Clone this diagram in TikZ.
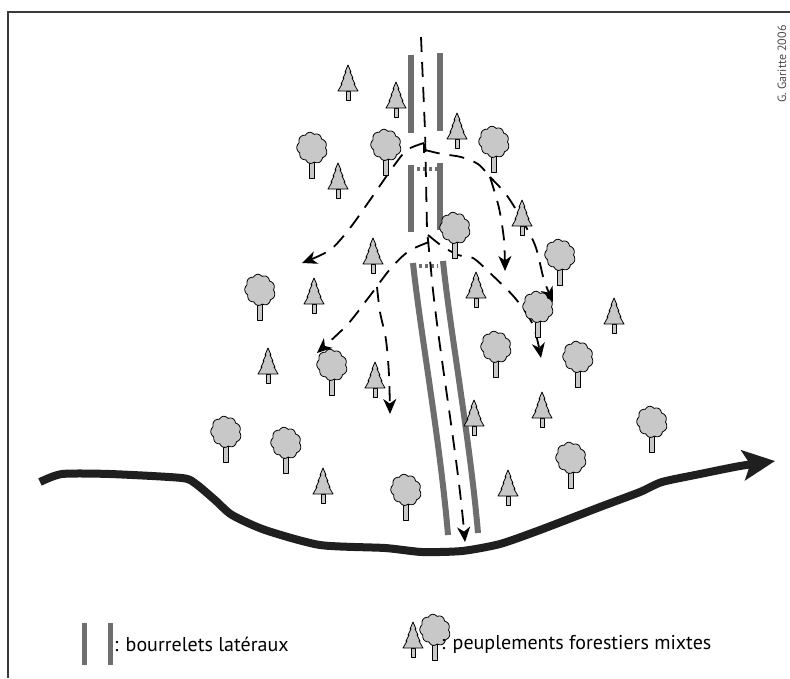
\documentclass[tikz,border=0pt]{standalone}
\usepackage{fontspec}
\setmainfont{PT Sans}
\usetikzlibrary{arrows.meta}

\definecolor{leveegray}{HTML}{6E6E6E}
\definecolor{leafgray}{HTML}{C8C8C8}
\definecolor{framegray}{HTML}{3A3A3A}

\tikzset{
  levee/.style={leveegray, line width=6pt},
  leveetop/.style={leveegray, line width=4pt, dash pattern=on 3pt off 3pt},
  flowplain/.style={black, line width=1.8pt, dash pattern=on 15pt off 10pt},
  flow/.style={flowplain, -{Stealth[length=15pt,width=13pt,inset=4.5pt]}},
  river/.style={black!88, line width=8pt, line join=round,
    -{Stealth[length=32pt,width=30pt,inset=7pt]}},
  treefill/.style={fill=leafgray, draw=black, line width=0.8pt, line join=round},
  sapin/.pic={
    \path[treefill] (-2,-9) rectangle (2,0);
    \path[treefill] (0,-35) -- (3,-28) -- (2,-28) -- (5,-22) -- (4,-22)
      -- (7,-16) -- (6,-16) -- (10,-9) -- (-10,-9) -- (-6,-16) -- (-7,-16)
      -- (-4,-22) -- (-5,-22) -- (-2,-28) -- (-3,-28) -- cycle;
  },
  feuillu/.pic={
    \path[treefill] (-2.2,-18) rectangle (2.2,0);
    \path[treefill] plot[variable=\t, domain=0:356, samples=90]
      ({(13+1.7*abs(sin(4.5*\t))+0.8*sin(2*\t+40))*cos(\t)},
       {-30+(14.5+1.7*abs(sin(4.5*\t))+0.8*sin(2*\t+40))*sin(\t)}) -- cycle;
  }
}

\begin{document}
\begin{tikzpicture}[x=1pt,y=-1pt]
\useasboundingbox (0,0) rectangle (790,678);

% frame (top and left edges)
\draw[framegray, line width=1.5pt] (8,678) -- (8,12) -- (790,12);

% credit line
\node[rotate=90, text=black!70, font=\fontsize{12}{14}\selectfont, inner sep=0pt]
  (credit) at (782,64) {G. Garitte 2006};

% river
\draw[river] plot[smooth, tension=0.4] coordinates {
  (40,482) (62,474) (110,474) (182,478) (196,484) (215,500) (232,515)
  (265,530) (320,545) (385,548) (422,552) (462,551) (500,544) (540,530)
  (600,507) (640,492) (662,482) (700,474) (740,466) (775,461)};

% channel levees: upper segment
\draw[levee] (411,55) -- (411,133);
\draw[levee] (440,53) -- (440,131);
% middle segment
\draw[leveetop] (417,169) -- (437,169);
\draw[levee] (411,165) -- (411,232);
\draw[levee] (440,163) -- (440,230);
% lower segment
\draw[leveetop] (419,266) -- (438,266);
\draw[levee] (413,263) .. controls (420,330) and (440,440) .. (448,535);
\draw[levee] (443,261) .. controls (450,330) and (470,440) .. (478,533);

% axial flow
\draw[flow] (421,37) -- (425,130) -- (427,230) -- (431,270)
  .. controls (437,340) and (457,450) .. (465,542);

% overflow at the first breach
\draw[flow] plot[smooth] coordinates {
  (424,143) (407,150) (393,167) (370,200) (350,228) (330,250) (302,263)};
\draw[flowplain] (424,144) -- (424,153);
\draw[flowplain] plot[smooth] coordinates {(425,150) (442,154) (461,157) (478,164) (490,177)};
\draw[flow] plot[smooth] coordinates {(490,177) (499,208) (504,240) (505,271)};
\draw[flow] plot[smooth] coordinates {(490,177) (505,193) (518,213) (535,245) (544,280) (553,302)};

% overflow at the second breach
\draw[flow] plot[smooth] coordinates {
  (429,242) (409,251) (391,268) (369,297) (347,325) (317,353)};
\draw[flow] plot[smooth] coordinates {(377,287) (380,312) (386,340) (389,375) (390,414)};
\draw[flow] plot[smooth] coordinates {
  (428,235) (442,246) (458,255) (473,258) (490,273) (515,298) (533,325) (541,358)};

% conifers
\foreach \px/\py in {348/100, 396/117, 457/148, 338/198, 373/273, 314/313,
  476/307, 522/235, 614/333, 268/383, 375/397, 474/435, 542/427, 323/503, 508/505}
  \pic at (\px,\py) {sapin};

% broadleaf trees
\foreach \px/\py in {312/178, 386/175, 494/172, 455/258, 560/285, 260/320,
  538/337, 496/377, 578/387, 332/395, 226/462, 286/473, 406/520, 571/488, 652/452}
  \pic at (\px,\py) {feuillu};

% legend
\draw[levee, line width=5pt] (84,623) -- (84,665);
\draw[levee, line width=5pt] (110,623) -- (110,665);
\node[anchor=west, inner sep=0pt, font=\fontsize{20}{24}\selectfont] (legA) at (114,644)
  {: bourrelets latéraux};
\pic at (413,657) {sapin};
\pic at (435,660) {feuillu};
\node[anchor=west, inner sep=0pt, font=\fontsize{20}{24}\selectfont] (legB) at (441,644)
  {: peuplements forestiers mixtes};
\end{tikzpicture}
\end{document}
